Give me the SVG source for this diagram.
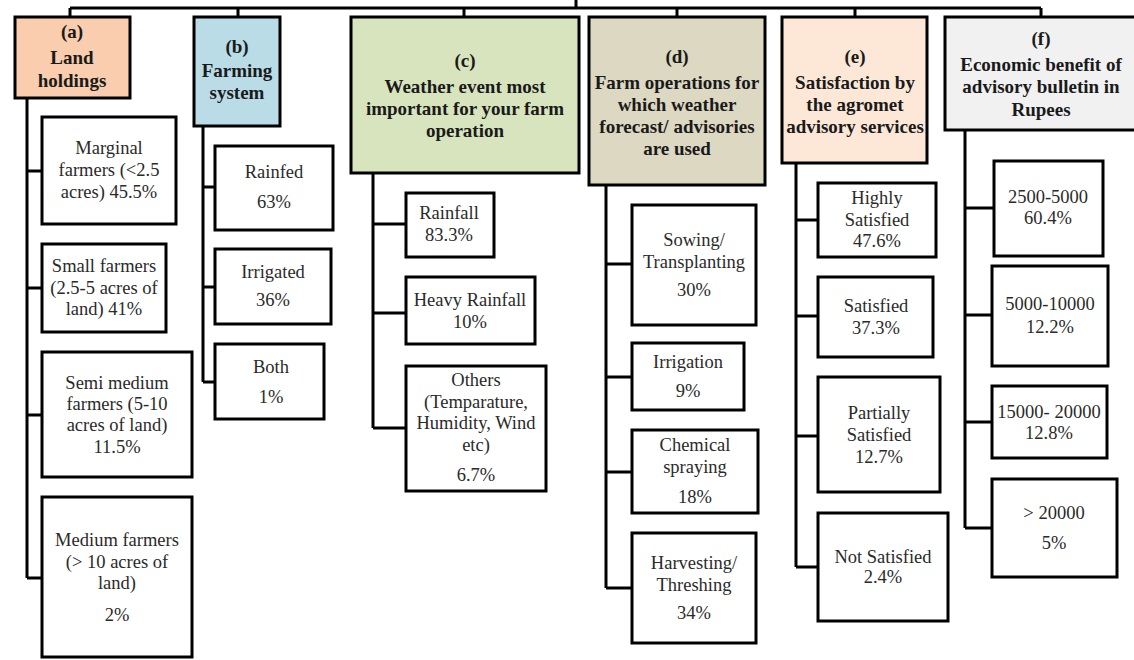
<svg xmlns="http://www.w3.org/2000/svg" width="1134" height="660" viewBox="0 0 1134 660">
<style>
.box{stroke:#000;stroke-width:3;fill:#fff}
.con{stroke:#000;stroke-width:3;fill:none;stroke-linejoin:miter}
text{font-family:'Liberation Serif',Tinos,'Times New Roman','DejaVu Serif',serif;font-size:18.5px;fill:#2a2a2a;text-anchor:middle}
.h{font-weight:bold;font-size:19px;fill:#1a1a1a}
</style>
<rect width="1134" height="660" fill="#fff"/>
<g id="connectors">
<path class="con" d="M70,8 H1041 M576,0 V8 M70,8 V17 M238,8 V17 M464,8 V17 M677,8 V17 M855,8 V17 M1041,8 V17"/>
<path class="con" d="M27,98 V578 M27,171 H42 M27,288 H42 M27,415 H42 M27,578 H42"/>
<path class="con" d="M203,126 V382 M203,187 H215 M203,287 H215 M203,382 H215"/>
<path class="con" d="M373,173 V428 M373,224 H406 M373,313 H406 M373,428 H406"/>
<path class="con" d="M606,185 V588 M606,264 H632 M606,377 H632 M606,472 H632 M606,588 H632"/>
<path class="con" d="M796,163 V567 M796,220 H818 M796,316 H818 M796,436 H818 M796,567 H818"/>
<path class="con" d="M965,130 V528 M965,208 H993 M965,315 H992 M965,422 H992 M965,528 H992"/>
</g>
<g id="a">
<rect class="box" x="15" y="17" width="115" height="81" style="fill:#F9CDAD"/>
<text class="h" x="72" y="38">(a)</text>
<text class="h" x="72" y="64">Land</text>
<text class="h" x="72" y="87">holdings</text>
</g>
<g id="b">
<rect class="box" x="194" y="17" width="86" height="109" style="fill:#B9DCE7"/>
<text class="h" x="237" y="53">(b)</text>
<text class="h" x="237" y="77">Farming</text>
<text class="h" x="237" y="99">system</text>
</g>
<g id="c">
<rect class="box" x="351" y="17" width="228" height="156" style="fill:#D8E4BD"/>
<text class="h" x="465" y="67">(c)</text>
<text class="h" x="465" y="93">Weather event most</text>
<text class="h" x="465" y="115">important for your farm</text>
<text class="h" x="465" y="137">operation</text>
</g>
<g id="d">
<rect class="box" x="589" y="17" width="176" height="168" style="fill:#DCD8C2"/>
<text class="h" x="677" y="63">(d)</text>
<text class="h" x="677" y="89">Farm operations for</text>
<text class="h" x="677" y="111">which weather</text>
<text class="h" x="677" y="133">forecast/ advisories</text>
<text class="h" x="677" y="155">are used</text>
</g>
<g id="e">
<rect class="box" x="782" y="17" width="145" height="146" style="fill:#FDE8D8"/>
<text class="h" x="855" y="63">(e)</text>
<text class="h" x="855" y="89">Satisfaction by</text>
<text class="h" x="855" y="111">the agromet</text>
<text class="h" x="855" y="133">advisory services</text>
</g>
<g id="f">
<rect class="box" x="945" y="17" width="195" height="113" style="fill:#F1F1F1"/>
<text class="h" x="1041" y="45">(f)</text>
<text class="h" x="1041" y="71">Economic benefit of</text>
<text class="h" x="1041" y="93">advisory bulletin in</text>
<text class="h" x="1041" y="116">Rupees</text>
</g>
<g id="a1">
<rect class="box" x="42" y="117" width="134" height="107"/>
<text x="109" y="154">Marginal</text>
<text x="109" y="176">farmers (&lt;2.5</text>
<text x="109" y="198">acres)  45.5%</text>
</g>
<g id="a2">
<rect class="box" x="42" y="244" width="124" height="88"/>
<text x="104" y="272">Small farmers</text>
<text x="104" y="294">(2.5-5 acres of</text>
<text x="104" y="315">land) 41%</text>
</g>
<g id="a3">
<rect class="box" x="42" y="352" width="150" height="125"/>
<text x="117" y="389">Semi medium</text>
<text x="117" y="410">farmers (5-10</text>
<text x="117" y="431">acres of land)</text>
<text x="117" y="453">11.5%</text>
</g>
<g id="a4">
<rect class="box" x="42" y="497" width="150" height="160"/>
<text x="117" y="546">Medium farmers</text>
<text x="117" y="568">(&gt; 10 acres of</text>
<text x="117" y="589">land)</text>
<text x="117" y="621">2%</text>
</g>
<g id="b1">
<rect class="box" x="215" y="146" width="118" height="84"/>
<text x="274" y="178">Rainfed</text>
<text x="274" y="208">63%</text>
</g>
<g id="b2">
<rect class="box" x="215" y="249" width="116" height="75"/>
<text x="273" y="278">Irrigated</text>
<text x="273" y="306">36%</text>
</g>
<g id="b3">
<rect class="box" x="215" y="344" width="109" height="75"/>
<text x="271" y="373">Both</text>
<text x="271" y="403">1%</text>
</g>
<g id="c1">
<rect class="box" x="406" y="193" width="88" height="64"/>
<text x="449" y="219">Rainfall</text>
<text x="449" y="241">83.3%</text>
</g>
<g id="c2">
<rect class="box" x="406" y="277" width="129" height="67"/>
<text x="470" y="306">Heavy Rainfall</text>
<text x="470" y="328">10%</text>
</g>
<g id="c3">
<rect class="box" x="406" y="366" width="140" height="125"/>
<text x="476" y="386">Others</text>
<text x="476" y="408">(Temparature,</text>
<text x="476" y="429">Humidity, Wind</text>
<text x="476" y="451">etc)</text>
<text x="476" y="481">6.7%</text>
</g>
<g id="d1">
<rect class="box" x="632" y="205" width="124" height="120"/>
<text x="694" y="246">Sowing/</text>
<text x="694" y="268">Transplanting</text>
<text x="694" y="296">30%</text>
</g>
<g id="d2">
<rect class="box" x="632" y="343" width="112" height="67"/>
<text x="688" y="368">Irrigation</text>
<text x="688" y="397">9%</text>
</g>
<g id="d3">
<rect class="box" x="632" y="430" width="126" height="83"/>
<text x="695" y="451">Chemical</text>
<text x="695" y="473">spraying</text>
<text x="695" y="503">18%</text>
</g>
<g id="d4">
<rect class="box" x="632" y="533" width="124" height="110"/>
<text x="694" y="569">Harvesting/</text>
<text x="694" y="591">Threshing</text>
<text x="694" y="619">34%</text>
</g>
<g id="e1">
<rect class="box" x="818" y="183" width="118" height="74"/>
<text x="877" y="204">Highly</text>
<text x="877" y="226">Satisfied</text>
<text x="877" y="247">47.6%</text>
</g>
<g id="e2">
<rect class="box" x="818" y="277" width="115" height="80"/>
<text x="876" y="312">Satisfied</text>
<text x="876" y="334">37.3%</text>
</g>
<g id="e3">
<rect class="box" x="818" y="377" width="122" height="115"/>
<text x="879" y="419">Partially</text>
<text x="879" y="441">Satisfied</text>
<text x="879" y="463">12.7%</text>
</g>
<g id="e4">
<rect class="box" x="818" y="513" width="130" height="108"/>
<text x="883" y="563">Not Satisfied</text>
<text x="883" y="583">2.4%</text>
</g>
<g id="f1">
<rect class="box" x="994" y="161" width="109" height="95"/>
<text x="1048" y="203">2500-5000</text>
<text x="1048" y="224">60.4%</text>
</g>
<g id="f2">
<rect class="box" x="992" y="266" width="116" height="100"/>
<text x="1050" y="310">5000-10000</text>
<text x="1050" y="333">12.2%</text>
</g>
<g id="f3">
<rect class="box" x="992" y="386" width="115" height="72"/>
<text x="1049" y="418">15000- 20000</text>
<text x="1049" y="439">12.8%</text>
</g>
<g id="f4">
<rect class="box" x="992" y="479" width="125" height="98"/>
<text x="1054" y="519">&gt; 20000</text>
<text x="1054" y="549">5%</text>
</g>
</svg>
